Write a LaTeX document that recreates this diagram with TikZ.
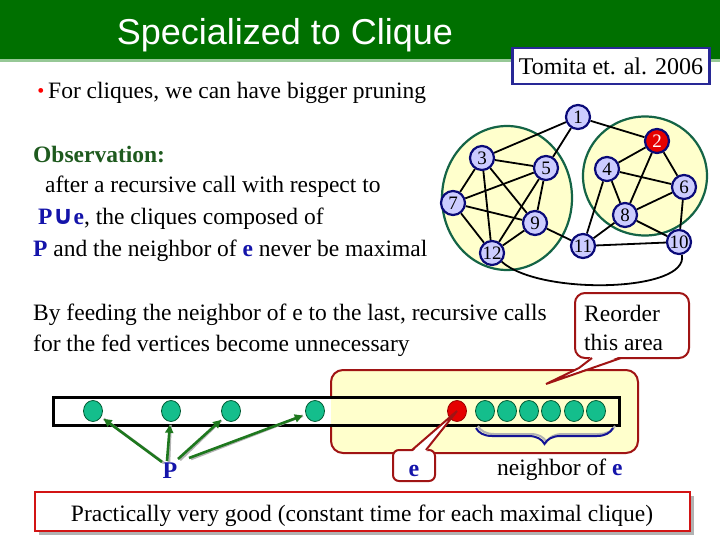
\documentclass[tikz,border=0pt]{standalone}
\usepackage{fontspec}
\setmainfont{Liberation Serif}
\newfontfamily\titlefont{Liberation Sans}
\newfontfamily\symfont{DejaVu Sans}
\usetikzlibrary{shapes.geometric,decorations.pathreplacing,backgrounds,arrows.meta}
\definecolor{titlegreen}{RGB}{0,112,0}
\definecolor{lightgreen}{RGB}{150,200,150}
\definecolor{navyb}{RGB}{40,40,150}
\definecolor{nodefill}{RGB}{204,204,255}
\definecolor{nodeedge}{RGB}{10,10,120}
\definecolor{paleyellow}{RGB}{255,255,204}
\definecolor{ringgreen}{RGB}{20,100,70}
\definecolor{darkred}{RGB}{160,20,20}
\definecolor{dotgreen}{RGB}{20,190,140}
\definecolor{dotedge}{RGB}{0,90,50}
\definecolor{arrowgreen}{RGB}{30,120,30}
\definecolor{obsgreen}{RGB}{30,90,30}
\definecolor{textblue}{RGB}{20,20,170}
\definecolor{boxred}{RGB}{210,20,20}
\definecolor{bracenavy}{RGB}{20,20,150}
\begin{document}
\begin{tikzpicture}[x=1pt,y=-1pt,
  gnode/.style={circle,draw=nodeedge,line width=2.2pt,fill=nodefill,minimum size=24pt,inner sep=0pt,font=\fontsize{19}{19}\selectfont},
  gedge/.style={line width=1.8pt,black},
  ring/.style={ellipse,draw=ringgreen,line width=2.2pt,fill=paleyellow,inner sep=0pt},
  body/.style={font=\fontsize{23.5}{26}\selectfont,inner sep=0pt,anchor=base west},
  dot/.style={ellipse,draw=dotedge,line width=0.8pt,fill=dotgreen,minimum width=19pt,minimum height=21pt,inner sep=0pt},
  parrow/.style={arrowgreen,line width=2.6pt,shorten >=3pt,-{Triangle[length=8pt,width=8pt]}},
  pshadow/.style={black!30,line width=2.6pt,shorten >=3pt},
  callout/.style={draw=darkred,line width=2pt,fill=white},
  ]
\useasboundingbox (0,0) rectangle (720,540);
\begin{pgfonlayer}{background}
\fill[white] (0,0) rectangle (720,540);
\end{pgfonlayer}
% title bar
\fill[titlegreen] (0,0) rectangle (720,59);
\fill[lightgreen] (0,59) rectangle (720,62);
\node[font=\titlefont\fontsize{36}{36}\selectfont,text=white,anchor=base,inner sep=0pt] (title) at (285,45) {Specialized to Clique};
\node[draw=navyb,line width=2.6pt,fill=white,minimum width=197pt,minimum height=36pt,inner sep=0pt,font=\fontsize{24}{24}\selectfont] (tomita) at (611,66) {Tomita et. al. 2006};

% bullet and text
\node[font=\fontsize{20}{20}\selectfont,text=red,anchor=base,inner sep=0pt] (bullet) at (41,98) {•};
\node[body] (l1) at (48,99) {For cliques, we can have bigger pruning};
\node[body,font=\bfseries\fontsize{23.5}{26}\selectfont,text=obsgreen] (obs) at (33,163) {Observation:};
\node[body] (l2) at (45,193) {after a recursive call with respect to};
\node[body] (l3) at (38,225) {{\bfseries\color{textblue}P{\symfont\fontsize{26}{26}\selectfont ∪}e}, the cliques composed of};
\node[body] (l4) at (33,256) {{\bfseries\color{textblue}P} and the neighbor of {\bfseries\color{textblue}e} never be maximal};

% graph
\node[gnode] (n1) at (578,117) {1};
\node[gnode,fill=red!90!black,text=white,draw=nodeedge] (n2) at (657,141) {2};
\node[gnode] (n3) at (482,158) {3};
\node[gnode] (n5) at (546,168) {5};
\node[gnode] (n4) at (607,169) {4};
\node[gnode] (n6) at (684,187) {6};
\node[gnode] (n7) at (453,203) {7};
\node[gnode] (n9) at (535,223) {9};
\node[gnode] (n8) at (625,215) {8};
\node[gnode] (n11) at (583,246) {11};
\node[gnode] (n10) at (679,242) {10};
\node[gnode] (n12) at (492,253) {12};
\begin{pgfonlayer}{background}
\node[ring,minimum width=130pt,minimum height=144pt] (leftring) at (507,198) {};
\node[ring,minimum width=124pt,minimum height=119pt] (rightring) at (645,176) {};
\foreach \a/\b in {n1/n3,n1/n5,n1/n2,n3/n5,n3/n7,n3/n12,n3/n9,n5/n7,n5/n12,n5/n9,n7/n9,n7/n12,n9/n12,n9/n11,
  n2/n4,n2/n8,n2/n6,n4/n6,n4/n8,n4/n11,n6/n8,n6/n10,n8/n11,n8/n10,n11/n10}
  \draw[gedge] (\a) -- (\b);
\draw[gedge] (n12) .. controls (540,296) and (690,292) .. (n10);
\end{pgfonlayer}

% middle text
\node[body] (m1) at (33,320) {By feeding the neighbor of e to the last, recursive calls};
\node[body] (m2) at (33,351) {for the fed vertices become unnecessary};

% yellow area and array
\draw[draw=darkred,line width=2pt,fill=paleyellow,rounded corners=12pt] (331,370) rectangle (638,453);
\fill[white] (53,397) rectangle (331,425);
\fill[paleyellow] (331,397) rectangle (619,425);
\draw[line width=3pt] (53,397) rectangle (619,425);

% reorder callout
\draw[callout,rounded corners=10pt] (575,293) rectangle (689,358);
\fill[white] (592,356) -- (579,368) -- (546,384) -- (621,356) -- cycle;
\draw[darkred,line width=2pt,line join=miter] (592,358) -- (579,368) -- (546,384) -- (621,358);
\node[body] (ro1) at (584,321) {Reorder};
\node[body] (ro2) at (584,350) {this area};

% dots
\node[dot] (a1) at (93,411) {};
\node[dot] (a2) at (171,411) {};
\node[dot] (a3) at (231,411) {};
\node[dot] (a4) at (315,411) {};
\node[dot,fill=red!90!black,draw=red!60!black] (er) at (457,411) {};
\foreach \i/\x in {1/485,2/507,3/529,4/551,5/574,6/596}
  \node[dot] (b\i) at (\x,411) {};

% P and arrows
\node[font=\bfseries\fontsize{24}{24}\selectfont,text=textblue,anchor=base,inner sep=0pt] (P) at (170,478) {P};
\coordinate (ps1) at (162,462);
\coordinate (ps2) at (167,461);
\coordinate (ps3) at (178,459);
\coordinate (ps4) at (189,458);
\draw[pshadow] ([shift={(2,1)}]ps1) -- ([shift={(2,1)}]a1);
\draw[pshadow] ([shift={(2,1)}]ps2) -- ([shift={(2,1)}]a2);
\draw[pshadow] ([shift={(2,1)}]ps3) -- ([shift={(2,1)}]a3);
\draw[pshadow] ([shift={(2,1)}]ps4) -- ([shift={(2,1)}]a4);
\draw[parrow] (ps1) -- (a1);
\draw[parrow] (ps2) -- (a2);
\draw[parrow] (ps3) -- (a3);
\draw[parrow] (ps4) -- (a4);

% e callout
\draw[callout,rounded corners=6pt] (393,450) rectangle (435,481);
\fill[white] (412,452) -- (457,411) -- (426,452) -- cycle;
\draw[darkred,line width=2pt] (412,450) -- (er.center) -- (426,450);
\node[font=\bfseries\fontsize{24}{24}\selectfont,text=textblue,anchor=base,inner sep=0pt] (e) at (414,476) {e};

% brace
\draw[black!30,line width=2pt,decorate,decoration={brace,mirror,amplitude=16pt}] (478,426) -- (615,426);
\draw[bracenavy,line width=2pt,decorate,decoration={brace,mirror,amplitude=16pt}] (476,428) -- (613,428);
\node[body] (nb) at (497,475) {neighbor of {\bfseries\color{textblue}e}};

% bottom box
\fill[black!30] (39,496) rectangle (694,535);
\draw[boxred,line width=2.5pt,fill=white] (35,492) rectangle (690,531);
\node[font=\fontsize{23.5}{26}\selectfont,anchor=base,inner sep=0pt] (prac) at (362,521) {Practically very good (constant time for each maximal clique)};
\end{tikzpicture}
\end{document}
